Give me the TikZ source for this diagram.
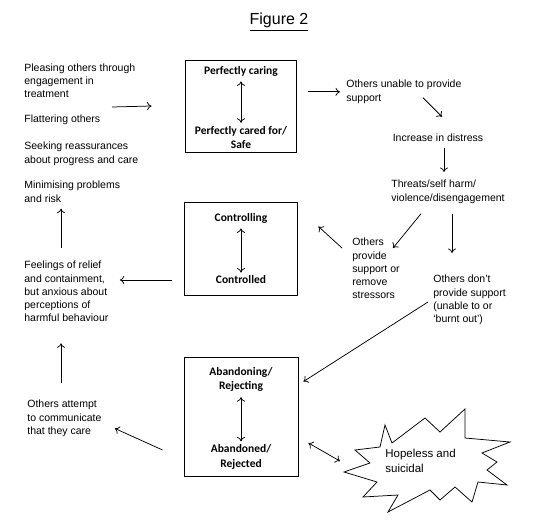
\documentclass[tikz,border=0pt]{standalone}
\usepackage{fontspec}
\setmainfont{Liberation Sans}
\newfontfamily\statefont{Carlito}
\usetikzlibrary{arrows.meta}

\begin{document}
\begin{tikzpicture}[x=1pt, y=-1pt, line width=0.75pt,
    >={To[length=4.5pt,width=8pt]},
    every node/.style={inner sep=0pt, font=\fontsize{10.5}{13.2}\selectfont},
    txt/.style={anchor=north west, align=left},
    state/.style={font=\statefont\bfseries\fontsize{11.5}{14.5}\selectfont, align=center},
    frame/.style={draw, line width=0.9pt}]
      \useasboundingbox (0,0) rectangle (533,529);

      \node[font=\fontsize{16}{18}\selectfont, anchor=base] (title) at (279,25) {\underline{Figure 2}};

      % left column
      \node[txt] (pleasing) at (24,63.5) {Pleasing others through\\engagement in\\treatment};
      \node[txt] (flatter)  at (24,115)  {Flattering others};
      \node[txt] (seeking)  at (24,142)  {Seeking reassurances\\about progress and care};
      \node[txt] (minim)    at (24,181)  {Minimising problems\\and risk};
      \node[txt] (relief)   at (24,261)  {Feelings of relief\\and containment,\\but anxious about\\perceptions of\\harmful behaviour};
      \node[txt] (attempt)  at (27,400)  {Others attempt\\to communicate\\that they care};

      % right column
      \node[txt] (unable)   at (346,80)  {Others unable to provide\\support};
      \node      (distress) at (438,138) {Increase in distress};
      \node[txt] (threats)  at (391,180) {Threats/self harm/\\violence/disengagement};
      \node[txt] (provide)  at (352,238) {Others\\provide\\support or\\remove\\stressors};
      \node[txt] (dont)     at (433,275) {Others don't\\provide support\\(unable to or\\`burnt out')};

      % boxes
      \node[frame, minimum width=111, minimum height=92]  (box1) at (240.5,106)   {};
      \node[frame, minimum width=113, minimum height=93]  (box2) at (240.5,248.5) {};
      \node[frame, minimum width=114, minimum height=119] (box3) at (241,416.5)   {};

      \node[state] (caring)      at (241,71)    {Perfectly caring};
      \node[state] (caredfor)    at (241,137.5) {Perfectly cared for/\\Safe};
      \node[state] (controlling) at (241,218)   {Controlling};
      \node[state] (controlled)  at (241,280)   {Controlled};
      \node[state] (abandoning)  at (241,379.5) {Abandoning/\\Rejecting};
      \node[state] (abandoned)   at (241,457)   {Abandoned/\\Rejected};

      % hopeless
      \draw (385,425) -- (392,443) -- (425,418) -- (440,432) -- (465,409)
            -- (465,438) -- (510,442) -- (482,453) -- (497,462) -- (487,470)
            -- (507,485) -- (478,482) -- (472,502) -- (455,487) -- (440,500)
            -- (430,490) -- (388,512) -- (398,495) -- (363,497) -- (377,482)
            -- (344,472) -- (370,463) -- (355,450) -- (380,447) -- cycle;
      \node[txt, font=\fontsize{11.5}{15}\selectfont] (hope) at (385,449) {Hopeless and\\suicidal};

      \coordinate (lead) at (112,107);

      \draw[<->, shorten <=5pt, shorten >=3pt] (caring) edge (caredfor)
               (controlling) edge (controlled)
               (abandoning) edge (abandoned);

      \draw[->] (lead) -- ([xshift=-33]box1.west);
      \draw[->, shorten <=12pt, shorten >=6pt] (box1.east |- unable.west) -- (unable.west);
      \draw[->] ([shift={(77,-6)}]unable.south west) -- ([shift={(4,-17)}]distress.north);
      \draw[->, shorten <=6pt, shorten >=8pt] ([xshift=6]distress.south) -- ([xshift=6]distress.south |- threats.north);
      \draw[->] ([shift={(30,10)}]threats.south west) -- ([shift={(41,10)}]provide.north west);
      \draw[->] ([shift={(61,10)}]threats.south west) -- ([shift={(19,-22)}]dont.north west);
      \draw[->] ([shift={(-10,10)}]provide.north west) -- ([shift={(21,25)}]box2.north east);
      \draw[->, shorten <=12pt, shorten >=11pt] (box2.west |- controlled) -- (relief.east |- controlled);
      \draw[->, shorten <=13pt, shorten >=6pt] ([xshift=37]relief.north west) -- ([xshift=37]minim.south west);
      \draw[->] ([shift={(-5,27)}]dont.north west) -- ([shift={(5,25)}]box3.north east);
      \draw[->] ([shift={(-21,33.5)}]box3.west) -- ([shift={(13,10)}]attempt.east);
      \draw[->, shorten <=17pt, shorten >=21pt] ([xshift=34]attempt.north west) -- ([xshift=37]relief.south west);
      \draw[<->] ([shift={(10,26.5)}]box3.east) -- ([xshift=-45]hope.west);
\end{tikzpicture}
\end{document}
